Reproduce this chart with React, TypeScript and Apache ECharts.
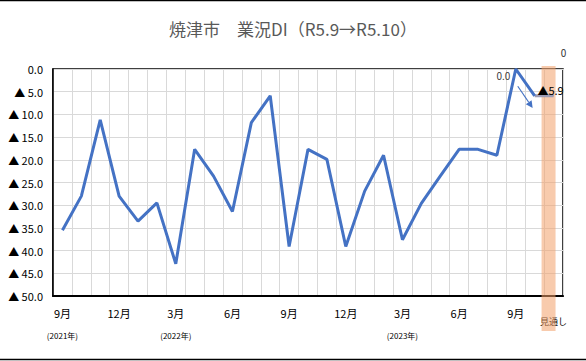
import React, { useEffect, useRef } from "react";
import * as echarts from "echarts";

const TITLE = "焼津市　業況DI（R5.9→R5.10）";
const months = ["9月","10月","11月","12月","1月","2月","3月","4月","5月","6月","7月","8月","9月","10月","11月","12月","1月","2月","3月","4月","5月","6月","7月","8月","9月","10月","見通し"];
const yearNotes: Record<number, string> = { 0: "(2021年)", 6: "(2022年)", 18: "(2023年)" };
const diValues: (number | null)[] = [-35.5,-28.0,-11.2,-28.0,-33.5,-29.5,-42.9,-17.7,-23.6,-31.4,-11.8,-5.9,-39.1,-17.7,-19.9,-39.1,-26.9,-19.0,-37.6,-29.6,-23.6,-17.7,-17.7,-19.0,0.0,-5.9,null];
const outlookValues: (number | null)[] = [null,null,null,null,null,null,null,null,null,null,null,null,null,null,null,null,null,null,null,null,null,null,null,null,null,-5.9,-5.9];
const yMin = -50;
const yMax = 0;
const yStep = 5;
const FONT = "'Noto Sans CJK JP', 'Noto Sans', sans-serif";

export default function App() {
  const ref = useRef<HTMLDivElement>(null);
  useEffect(() => {
    if (!ref.current) return;
    const chart = echarts.init(ref.current, undefined, { renderer: "svg" });
    const lastIdx = months.length - 1;
    const peakIdx = 24;
    chart.setOption({
      animation: false,
      textStyle: { fontFamily: FONT },
      title: {
        text: TITLE,
        left: "center",
        top: 15,
        textStyle: { fontSize: 17, fontWeight: "normal", color: "#595959", fontFamily: FONT },
      },
      grid: {
        left: 53,
        right: 23,
        top: 69,
        bottom: 65,
        show: true,
        borderColor: "#000",
        borderWidth: 1.5,
      },
      xAxis: {
        type: "category",
        data: months,
        boundaryGap: true,
        axisLine: { onZero: false, lineStyle: { color: "#000", width: 2 } },
        axisTick: { show: false },
        splitLine: { show: true, interval: 0, lineStyle: { color: "#D9D9D9", width: 1 } },
        axisLabel: {
          interval: (i: number) => i % 3 === 0 || i === lastIdx,
          margin: 8,
          formatter: (value: string, index: number) => {
            if (index === lastIdx) return `{s|${value}}`;
            const y = yearNotes[index];
            return y ? `{m|${value}}\n{y|${y}}` : `{m|${value}}`;
          },
          rich: {
            m: { fontSize: 11, lineHeight: 18, color: "#000", fontFamily: FONT },
            y: { fontSize: 8, lineHeight: 26, color: "#000", fontFamily: FONT },
            s: { fontSize: 9, lineHeight: 34, color: "#000", fontFamily: FONT },
          },
        },
      },
      yAxis: {
        type: "value",
        min: yMin,
        max: yMax,
        interval: yStep,
        axisLine: { show: true, lineStyle: { color: "#000", width: 1.5 } },
        axisTick: { show: false },
        splitLine: { show: true, lineStyle: { color: "#D9D9D9", width: 1 } },
        axisLabel: {
          margin: 10,
          fontSize: 11,
          color: "#000",
          fontFamily: FONT,
          formatter: (v: number) => (v === 0 ? "0.0" : "▲ " + (-v).toFixed(1)),
        },
      },
      series: [
        {
          type: "line",
          data: diValues.map((v, i) =>
            i === peakIdx
              ? {
                  value: v,
                  symbol: "circle",
                  symbolSize: 1,
                  label: {
                    show: true,
                    position: "left",
                    offset: [0, 6],
                    fontSize: 10,
                    color: "#404040",
                    formatter: (p: any) => Number(p.value).toFixed(1),
                  },
                }
              : v
          ),
          symbol: "none",
          lineStyle: { color: "#4472C4", width: 3 },
          itemStyle: { color: "#4472C4" },
          z: 6,
        },
        {
          type: "line",
          data: outlookValues.map((v, i) =>
            i === lastIdx
              ? {
                  value: v,
                  symbol: "circle",
                  symbolSize: 1,
                  label: {
                    show: true,
                    position: "top",
                    offset: [-3, 5],
                    fontSize: 11,
                    color: "#000",
                    formatter: (p: any) => "▲" + Math.abs(Number(p.value)).toFixed(1),
                  },
                }
              : v
          ),
          symbol: "none",
          lineStyle: { color: "#9C9CB4", width: 3 },
          itemStyle: { color: "#9C9CB4" },
          z: 5,
        },
      ],
    });

    const px = (i: number, v: number) =>
      chart.convertToPixel({ xAxisIndex: 0, yAxisIndex: 0 }, [i, v]) as number[];
    const cLast = px(lastIdx, 0);
    const a0 = px(peakIdx, -3.8);
    const a1 = px(peakIdx + 1, -8.6);
    const sx = a0[0] + 2, sy = a0[1];
    const ex = a1[0] - 2, ey = a1[1];
    const ang = Math.atan2(ey - sy, ex - sx);
    const hl = 7, hw = 3.5;
    const bx = ex - hl * Math.cos(ang), by = ey - hl * Math.sin(ang);
    const nx = -Math.sin(ang), ny = Math.cos(ang);
    const W = chart.getWidth();
    const H = chart.getHeight();

    chart.setOption({
      graphic: [
        {
          type: "rect",
          z: 1,
          silent: true,
          shape: { x: cLast[0] - 12, y: cLast[1] - 3, width: 14, height: 331 - (cLast[1] - 3) },
          style: { fill: "rgba(242,160,106,0.55)" },
        },
        {
          type: "line",
          z: 10,
          shape: { x1: sx, y1: sy, x2: bx, y2: by },
          style: { stroke: "#4472C4", lineWidth: 1.2 },
        },
        {
          type: "polygon",
          z: 10,
          shape: {
            points: [
              [ex, ey],
              [bx + nx * hw, by + ny * hw],
              [bx - nx * hw, by - ny * hw],
            ],
          },
          style: { fill: "#4472C4" },
        },
        {
          type: "text",
          z: 10,
          x: cLast[0] + 10,
          y: cLast[1] - 17,
          style: { text: "0", fontSize: 10, fill: "#333", align: "center", verticalAlign: "middle", fontFamily: FONT },
        },
        {
          type: "line",
          z: 10,
          shape: { x1: 0, y1: 0.5, x2: W, y2: 0.5 },
          style: { stroke: "#000", lineWidth: 1.5 },
        },
        {
          type: "line",
          z: 10,
          shape: { x1: 0, y1: H - 1.5, x2: W, y2: H - 1.5 },
          style: { stroke: "#000", lineWidth: 1.5 },
        },
      ],
    });
    return () => chart.dispose();
  }, []);
  return (
    <div
      ref={ref}
      style={{ position: "absolute", left: 0, top: 0, width: 586, height: 361, background: "#fff" }}
    />
  );
}
